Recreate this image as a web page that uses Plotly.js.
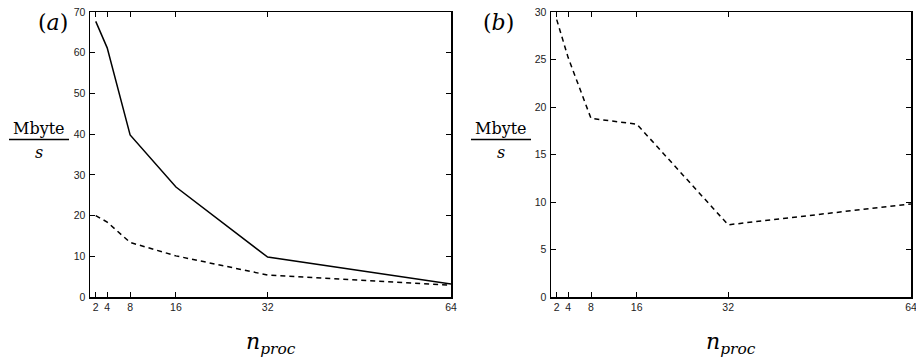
<!DOCTYPE html>
<html>
<head>
<meta charset="utf-8">
<script src="https://cdn.plot.ly/plotly-3.0.1.min.js"></script>
<style>html,body{margin:0;padding:0;background:#fff;}#chart{width:916px;height:360px;}</style>
</head>
<body>
<div id="chart"></div>
<script>
const nproc = [2, 4, 8, 16, 32, 64];
const xTicks = [2, 4, 8, 16, 32, 64];
const aSolid = [67.7, 61.2, 39.8, 27.0, 9.8, 3.2];
const aDashed = [20.0, 18.4, 13.4, 10.1, 5.4, 2.9];
const bDashed = [29.2, 25.2, 18.8, 18.2, 7.6, 9.8];
const aYTicks = [0, 10, 20, 30, 40, 50, 60, 70];
const bYTicks = [0, 5, 10, 15, 20, 25, 30];

const W = 916, H = 360;
const tickFont = {family: 'Liberation Sans', size: 10.5, color: '#222'};
function xax(domain) {
  return {domain: domain, range: [1, 64], tickvals: xTicks, ticktext: xTicks.map(String),
    ticks: 'inside', ticklen: 5, tickwidth: 1, tickcolor: '#000', showline: true, linecolor: '#000',
    linewidth: 1.5, mirror: 'ticks', showgrid: false, zeroline: false, tickfont: tickFont,
    ticklabeloverflow: 'allow'};
}
function yax(range, vals, anchor) {
  return {domain: [(H - 297) / H, (H - 12) / H], range: range, tickvals: vals, ticks: 'inside', ticklen: 5,
    tickwidth: 1, tickcolor: '#000', showline: true, linecolor: '#000', linewidth: 1.5, mirror: 'ticks',
    showgrid: false, zeroline: false, tickfont: tickFont, anchor: anchor, ticklabelstandoff: 1,
    ticklabeloverflow: 'allow'};
}
const traces = [
  {x: nproc, y: aSolid, mode: 'lines', line: {color: '#000', width: 1.5}, xaxis: 'x', yaxis: 'y'},
  {x: nproc, y: aDashed, mode: 'lines', line: {color: '#000', width: 1.5, dash: '5px,4px'}, xaxis: 'x', yaxis: 'y'},
  {x: nproc, y: bDashed, mode: 'lines', line: {color: '#000', width: 1.5, dash: '5px,4px'}, xaxis: 'x2', yaxis: 'y2'}
];
const serif = 'DejaVu Serif';
function px(x) { return x / W; }
function py(y) { return 1 - y / H; }
const ann = [];
const shapes = [];
function panelText(cx, label, labX, nx) {
  ann.push({xref: 'paper', yref: 'paper', x: px(labX), y: py(22), text: label, showarrow: false,
    font: {family: serif, size: 22, color: '#000'}, xanchor: 'center', yanchor: 'middle'});
  ann.push({xref: 'paper', yref: 'paper', x: px(cx), y: py(128), text: 'Mbyte', showarrow: false,
    font: {family: serif, size: 16, color: '#000'}, xanchor: 'center', yanchor: 'middle'});
  ann.push({xref: 'paper', yref: 'paper', x: px(cx), y: py(152), text: '<i>s</i>', showarrow: false,
    font: {family: serif, size: 16, color: '#000'}, xanchor: 'center', yanchor: 'middle'});
  shapes.push({type: 'line', xref: 'paper', yref: 'paper', x0: px(cx - 30), x1: px(cx + 30), y0: py(139.5), y1: py(139.5),
    line: {color: '#000', width: 1.3}});
  ann.push({xref: 'paper', yref: 'paper', x: px(nx), y: py(343), text: '<i>n</i><sub><i>proc</i></sub>', showarrow: false,
    font: {family: serif, size: 22, color: '#000'}, xanchor: 'center', yanchor: 'middle'});
}
panelText(39, '(<i>a</i>)', 53, 271);
panelText(501, '(<i>b</i>)', 498, 731);

const layout = {
  width: W, height: H, margin: {l: 0, r: 0, t: 0, b: 0}, showlegend: false,
  paper_bgcolor: '#fff', plot_bgcolor: '#fff',
  xaxis: xax([90 / W, 451 / W]),
  yaxis: yax([0, 70], aYTicks, 'x'),
  xaxis2: xax([551 / W, 911 / W]),
  yaxis2: yax([0, 30], bYTicks, 'x2'),
  annotations: ann, shapes: shapes
};
layout.xaxis.anchor = 'y';
layout.xaxis2.anchor = 'y2';
Plotly.newPlot('chart', traces, layout, {staticPlot: true, displayModeBar: false});
</script>
</body>
</html>
